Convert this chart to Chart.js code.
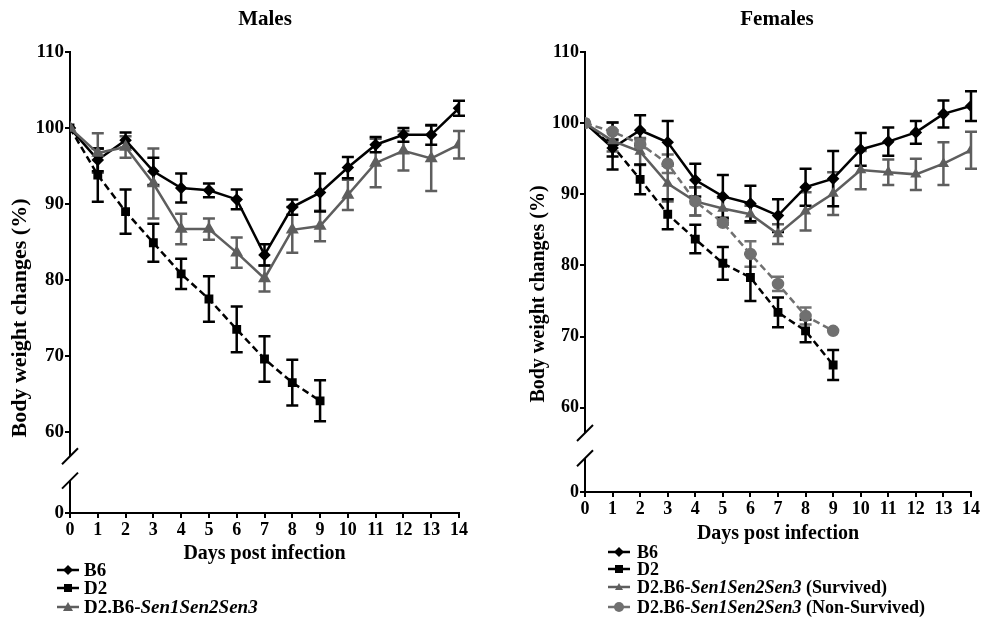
<!DOCTYPE html>
<html>
<head>
<meta charset="utf-8">
<script src="https://cdn.jsdelivr.net/npm/chart.js@4.4.0/dist/chart.umd.min.js"></script>
<style>
body { margin: 0; background: #fff; width: 982px; height: 617px; overflow: hidden; position: relative;
  font-family: "Liberation Serif", "Times New Roman", serif; color: #000; }
#boxM { position: absolute; left: 0; top: 0; }
#boxF { position: absolute; left: 521px; top: 0; }
.ttl { position: absolute; top: 6px; width: 200px; margin-left: -100px; text-align: center;
  font-weight: bold; font-size: 21px; line-height: 24px; }
.ytl { position: absolute; width: 300px; height: 26px; margin-left: -150px; margin-top: -13px;
  text-align: center; font-weight: bold; line-height: 26px; transform: rotate(-90deg); white-space: nowrap; }
.lg { position: absolute; font-weight: bold; line-height: 18px; height: 18px; white-space: nowrap; }
.lg svg { position: absolute; left: 0; top: 0; }
.lg span.t { position: absolute; top: 0; }
</style>
</head>
<body>
<canvas id="boxM" width="490" height="568"></canvas>
<canvas id="boxF" width="461" height="548"></canvas>

<div class="ttl" style="left:265px">Males</div>
<div class="ttl" style="left:777px">Females</div>
<div class="ytl" style="left:19px;top:318px;font-size:22px">Body weight changes (%)</div>
<div class="ytl" style="left:537px;top:294px;font-size:20px">Body weight changes (%)</div>

<!-- legends, Males -->
<div class="lg" style="left:57px;top:561px;font-size:19px"><svg width="24" height="18"><line x1="0" y1="9" x2="22" y2="9" stroke="#000" stroke-width="2.5"/><polygon points="11,4 16,9 11,14 6,9" fill="#000"/></svg><span class="t" style="left:27px">B6</span></div>
<div class="lg" style="left:57px;top:579px;font-size:19px"><svg width="24" height="18"><line x1="0" y1="9" x2="22" y2="9" stroke="#000" stroke-width="2.5"/><rect x="7" y="5" width="8" height="8" fill="#000"/></svg><span class="t" style="left:27px">D2</span></div>
<div class="lg" style="left:57px;top:598px;font-size:19px"><svg width="24" height="18"><line x1="0" y1="9" x2="22" y2="9" stroke="#5e5e5e" stroke-width="2.5"/><polygon points="11,4 16,13 6,13" fill="#5e5e5e"/></svg><span class="t" style="left:27px">D2.B6-<i>Sen1Sen2Sen3</i></span></div>

<!-- legends, Females -->
<div class="lg" style="left:608px;top:543px;font-size:18px"><svg width="24" height="18"><line x1="0" y1="9" x2="22" y2="9" stroke="#000" stroke-width="2.5"/><polygon points="11,4 16,9 11,14 6,9" fill="#000"/></svg><span class="t" style="left:29px">B6</span></div>
<div class="lg" style="left:608px;top:560px;font-size:18px"><svg width="24" height="18"><line x1="0" y1="9" x2="22" y2="9" stroke="#000" stroke-width="2.5"/><rect x="7" y="5" width="8" height="8" fill="#000"/></svg><span class="t" style="left:29px">D2</span></div>
<div class="lg" style="left:608px;top:578px;font-size:18px"><svg width="24" height="18"><line x1="0" y1="9" x2="22" y2="9" stroke="#5e5e5e" stroke-width="2.5"/><polygon points="11,5 15,12 7,12" fill="#5e5e5e"/></svg><span class="t" style="left:29px">D2.B6-<i>Sen1Sen2Sen3</i> (Survived)</span></div>
<div class="lg" style="left:608px;top:598px;font-size:18px"><svg width="24" height="18"><line x1="0" y1="9" x2="22" y2="9" stroke="#707070" stroke-width="2.5"/><circle cx="11" cy="9" r="5" fill="#707070"/></svg><span class="t" style="left:29px">D2.B6-<i>Sen1Sen2Sen3</i> (Non-Survived)</span></div>

<script>
// days post infection
const days = [0, 1, 2, 3, 4, 5, 6, 7, 8, 9, 10, 11, 12, 13, 14];
const yTickValues = [60, 70, 80, 90, 100, 110];

// Males
const maleB6 = [100, 95.8, 98.4, 94.3, 92.1, 91.8, 90.6, 83.3, 89.6, 91.5, 94.8, 97.8, 99.1, 99.1, 102.6];
const maleB6Err = [0, 1.5, 1.0, 1.8, 1.9, 0.9, 1.3, 1.4, 1.0, 2.5, 1.4, 1.0, 0.9, 1.3, 1.0];
const maleD2 = [100, 93.8, 89.0, 84.9, 80.8, 77.5, 73.5, 69.6, 66.5, 64.1];
const maleD2Err = [0, 3.5, 2.9, 2.5, 2.0, 3.0, 3.0, 3.0, 3.0, 2.7];
const maleSen = [100, 96.7, 97.5, 92.7, 86.7, 86.7, 83.6, 80.2, 86.6, 87.1, 91.2, 95.4, 97.0, 96.0, 97.8];
const maleSenErr = [0, 2.6, 1.4, 4.6, 2.0, 1.4, 2.0, 1.7, 3.0, 2.0, 2.0, 3.2, 2.6, 4.3, 1.8];

// Females
const femB6 = [100, 96.5, 99.0, 97.3, 92.0, 89.7, 88.7, 87.0, 91.0, 92.2, 96.3, 97.4, 98.7, 101.3, 102.4];
const femB6Err = [0, 1.2, 2.1, 3.0, 2.3, 3.0, 2.5, 2.3, 2.6, 3.9, 2.3, 2.0, 1.6, 1.9, 2.1];
const femD2 = [100, 96.8, 92.1, 87.2, 83.7, 80.3, 78.3, 73.4, 70.8, 66.0];
const femD2Err = [0, 3.3, 2.1, 2.1, 2.0, 2.3, 3.3, 2.1, 1.6, 2.1];
const femSurv = [100, 97.5, 96.0, 91.5, 89.0, 88.0, 87.2, 84.4, 87.6, 90.1, 93.4, 93.1, 92.8, 94.3, 96.2];
const femSurvErr = [0, 1.5, 1.9, 2.5, 2.0, 1.5, 1.2, 1.4, 2.7, 3.0, 2.7, 1.8, 2.2, 3.0, 2.6];
const femNonSurv = [100, 98.8, 97.1, 94.3, 89.0, 86.0, 81.6, 77.4, 72.9, 70.8];
const femNonSurvErr = [0, 1.3, 0.6, 1.3, 2.0, 0.3, 1.8, 1.0, 1.2, 0];

const serif = '"Liberation Serif", "Times New Roman", serif';
const BLACK = '#000';
const GRAY = '#5e5e5e';
const GRAY2 = '#707070';

function pts(vals) {
	return vals.map((v, i) => ({ x: days[i], y: v }));
}

function serie(vals, errs, color, style, radius, dashed) {
	return {
		data: pts(vals),
		errors: errs,
		borderColor: color,
		backgroundColor: color,
		pointBackgroundColor: color,
		pointBorderColor: color,
		pointStyle: style,
		pointRadius: radius,
		borderWidth: 2.5,
		borderDash: dashed ? [7, 4] : [],
		tension: 0
	};
}

// error bars (mean +/- sem) drawn with the chart scales
const errorBars = {
	id: 'errorBars',
	beforeDatasetsDraw(chart) {
		const ctx = chart.ctx, xs = chart.scales.x, ys = chart.scales.y;
		chart.data.datasets.forEach(ds => {
			if (!ds.errors) return;
			ctx.save();
			ctx.strokeStyle = ds.borderColor;
			ctx.lineWidth = 2.5;
			ds.data.forEach((p, i) => {
				const e = ds.errors[i];
				if (!e) return;
				const x = xs.getPixelForValue(p.x);
				const y1 = ys.getPixelForValue(p.y + e);
				const y2 = ys.getPixelForValue(p.y - e);
				ctx.beginPath();
				ctx.moveTo(x, y1); ctx.lineTo(x, y2);
				ctx.moveTo(x - 6, y1); ctx.lineTo(x + 6, y1);
				ctx.moveTo(x - 6, y2); ctx.lineTo(x + 6, y2);
				ctx.stroke();
			});
			ctx.restore();
		});
	}
};

// broken y axis between 0 and 60
const axisBreak = {
	id: 'axisBreak',
	afterDraw(chart) {
		const ctx = chart.ctx, ys = chart.scales.y, x = chart.chartArea.left;
		const p60 = ys.getPixelForValue(60), p0 = ys.getPixelForValue(ys.min);
		const a = p60 + 0.3 * (p0 - p60), b = p60 + 0.6 * (p0 - p60);
		ctx.save();
		ctx.fillStyle = '#fff';
		ctx.fillRect(x - 3, a, 6, b - a);
		ctx.strokeStyle = BLACK;
		ctx.lineWidth = 2;
		[a, b].forEach(c => {
			ctx.beginPath();
			ctx.moveTo(x - 8, c + 8);
			ctx.lineTo(x + 8, c - 8);
			ctx.stroke();
		});
		ctx.restore();
	}
};

function makeChart(id, ymin, yAxisW, xAxisH, padRight, yTickSize, datasets) {
	const ctx = document.getElementById(id).getContext('2d');
	return new Chart(ctx, {
		type: 'line',
		data: { datasets: datasets },
		plugins: [errorBars, axisBreak],
		options: {
			responsive: false,
			animation: false,
			layout: { padding: { left: 0, right: padRight, top: 52, bottom: 0 } },
			plugins: {
				legend: { display: false },
				tooltip: { enabled: false }
			},
			scales: {
				x: {
					type: 'linear', min: 0, max: 14,
					afterBuildTicks: s => { s.ticks = days.map(v => ({ value: v })); },
					afterFit: s => { s.height = xAxisH; },
					ticks: { color: BLACK, font: { family: serif, size: 18, weight: 'bold' }, padding: 2, maxRotation: 0, autoSkip: false },
					grid: { drawOnChartArea: false, drawTicks: true, tickLength: 5, color: BLACK, lineWidth: 2 },
					border: { color: BLACK, width: 2 },
					title: {
						display: true, text: 'Days post infection', color: BLACK,
						font: { family: serif, size: 20, weight: 'bold' },
						padding: { top: 0, bottom: 2 }
					}
				},
				y: {
					type: 'linear', min: ymin, max: 110,
					afterBuildTicks: s => { s.ticks = [ymin].concat(yTickValues).map(v => ({ value: v })); },
					afterFit: s => { s.width = yAxisW; },
					ticks: {
						color: BLACK, font: { family: serif, size: yTickSize, weight: 'bold' }, padding: 1,
						callback: v => (v < 55 ? '0' : String(v))
					},
					grid: { drawOnChartArea: false, drawTicks: true, tickLength: 5, color: BLACK, lineWidth: 2 },
					border: { color: BLACK, width: 2 }
				}
			}
		}
	});
}

makeChart('boxM', 49.34, 70, 55, 31, 19, [
	serie(maleSen, maleSenErr, GRAY, 'triangle', 5, false),
	serie(maleD2, maleD2Err, BLACK, 'rect', 4.5, true),
	serie(maleB6, maleB6Err, BLACK, 'rectRot', 4.5, false)
]);

makeChart('boxF', 48.15, 64, 56, 11, 18, [
	serie(femNonSurv, femNonSurvErr, GRAY2, 'circle', 5, true),
	serie(femSurv, femSurvErr, GRAY, 'triangle', 4, false),
	serie(femD2, femD2Err, BLACK, 'rect', 4.5, true),
	serie(femB6, femB6Err, BLACK, 'rectRot', 4.5, false)
]);
</script>
</body>
</html>
